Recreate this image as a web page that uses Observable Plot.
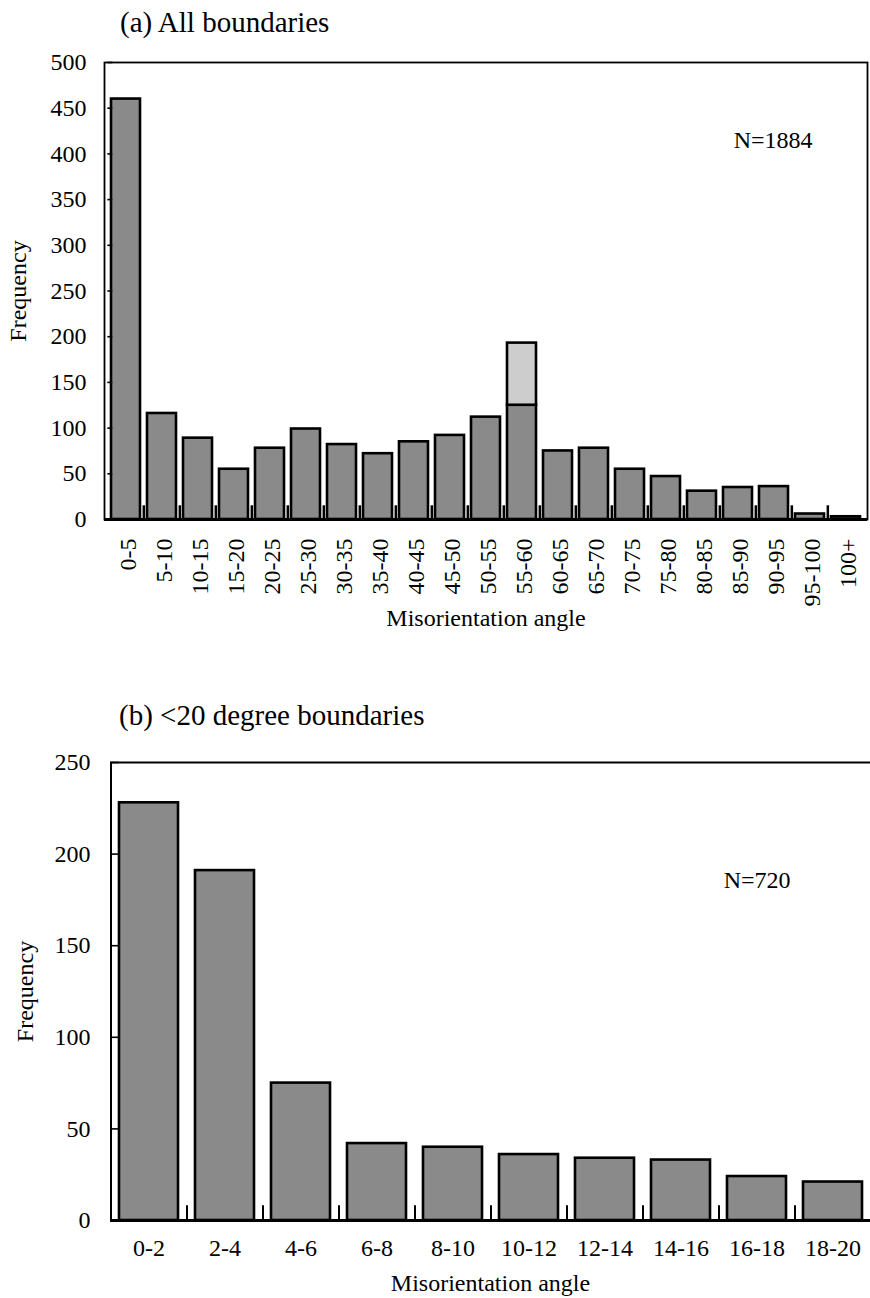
<!DOCTYPE html>
<html><head><meta charset="utf-8">
<script src="https://cdn.jsdelivr.net/npm/d3@7"></script>
<script src="https://cdn.jsdelivr.net/npm/@observablehq/plot@0.6"></script>
<style>
body{margin:0;background:#fff;}
#wrap{position:relative;width:870px;height:1298px;font-family:"Liberation Serif","Times New Roman",serif;}
.title{position:absolute;font-size:29px;line-height:30px;color:#000;white-space:nowrap;}
.chart{position:absolute;left:0;}
</style></head><body>
<div id="wrap">
<div class="title" style="left:120px;top:7px">(a) All boundaries</div>
<div id="a" class="chart" style="top:40px"></div>
<div class="title" style="left:119px;top:700px">(b) &lt;20 degree boundaries</div>
<div id="b" class="chart" style="top:740px"></div>
</div>
<script>
// Panel (a): all boundaries
const anglesA = ["0-5","5-10","10-15","15-20","20-25","25-30","30-35","35-40","40-45","45-50","50-55","55-60","60-65","65-70","70-75","75-80","80-85","85-90","90-95","95-100","100+"];
const countsA = [460,116,89,55,78,99,82,72,85,92,112,125,75,78,55,47,31,35,36,6,3];
const extraA  = [0,0,0,0,0,0,0,0,0,0,0,68,0,0,0,0,0,0,0,0,0];
const totalA = "N=1884";
const yTicksA = [0,50,100,150,200,250,300,350,400,450,500];

// Panel (b): <20 degree boundaries
const anglesB = ["0-2","2-4","4-6","6-8","8-10","10-12","12-14","14-16","16-18","18-20"];
const countsB = [228,191,75,42,40,36,34,33,24,21];
const totalB = "N=720";
const yTicksB = [0,50,100,150,200,250];

const FONT = "'Liberation Serif','Times New Roman',serif";
const W = 870;
const DARK = "#8a8a8a", LIGHT = "#cdcdcd";

// ---- chart A
const mlA = 104, mrA = 3, mtA = 22, mbA = 121, hA = 600;
const padInA = 0.2, padOutA = 0.1;
const stepA = (W - mlA - mrA) / anglesA.length;
const bwA = stepA * (1 - padInA);
const dataA = anglesA.map((a, i) => ({angle: a, count: countsA[i], extra: extraA[i]}));
const plotA = Plot.plot({
  width: W, height: hA, marginLeft: mlA, marginRight: mrA, marginTop: mtA, marginBottom: mbA,
  style: {fontFamily: FONT, fontSize: "24px", color: "#000", background: "#fff", overflow: "visible"},
  x: {domain: anglesA, paddingInner: padInA, paddingOuter: padOutA},
  y: {domain: [0, 500]},
  marks: [
    Plot.frame({stroke: "#000", strokeWidth: 1.8}),
    Plot.barY(dataA, {x: "angle", y: "count", fill: DARK, stroke: "#000", strokeWidth: 2.6}),
    Plot.barY(dataA.filter(d => d.extra > 0), {x: "angle", y1: "count", y2: d => d.count + d.extra, fill: LIGHT, stroke: "#000", strokeWidth: 2.6}),
    Plot.ruleX(anglesA.slice(1), {x: d => d, dx: -stepA / 2, y1: 0, y2: 15, stroke: "#000", strokeWidth: 2.5}),
    Plot.tickY(yTicksA, {y: d => d, x: () => anglesA[0], dx: -padOutA * stepA, insetRight: bwA - 5, stroke: "#000", strokeWidth: 1.6}),
    Plot.ruleY([0], {stroke: "#000", strokeWidth: 3}),
    Plot.axisY({ticks: yTicksA, tickSize: 0, tickPadding: 18, label: "Frequency", labelAnchor: "center", labelArrow: "none", labelOffset: 96}),
    Plot.text(anglesA, {x: d => d, y: () => 0, text: d => d, rotate: -90, textAnchor: "end", lineAnchor: "middle", dy: 19, dx: 2, fontSize: 24}),
    Plot.axisX({tickSize: 0, tickFormat: () => "", label: "Misorientation angle", labelAnchor: "center", labelOffset: 106}),
    Plot.text([totalA], {frameAnchor: "top-right", text: d => d, dx: -55, dy: 78, lineAnchor: "middle", textAnchor: "end", fontSize: 24})
  ]
});
document.getElementById("a").appendChild(plotA);

// ---- chart B
const mlB = 110, mrB = 0, mtB = 22, mbB = 78, hB = 558;
const padInB = 0.23, padOutB = 0.115;
const stepB = (W - mlB - mrB) / anglesB.length;
const bwB = stepB * (1 - padInB);
const dataB = anglesB.map((a, i) => ({angle: a, count: countsB[i]}));
const plotB = Plot.plot({
  width: W, height: hB, marginLeft: mlB, marginRight: mrB, marginTop: mtB, marginBottom: mbB,
  style: {fontFamily: FONT, fontSize: "24px", color: "#000", background: "#fff", overflow: "visible"},
  x: {domain: anglesB, paddingInner: padInB, paddingOuter: padOutB},
  y: {domain: [0, 250]},
  marks: [
    Plot.ruleY([250], {stroke: "#000", strokeWidth: 1.8}),
    Plot.ruleX([anglesB[0]], {x: d => d, dx: -stepB / 2, y1: 0, y2: 250, stroke: "#000", strokeWidth: 2}),
    Plot.barY(dataB, {x: "angle", y: "count", fill: DARK, stroke: "#000", strokeWidth: 2.6}),
    Plot.ruleX(anglesB.slice(1), {x: d => d, dx: -stepB / 2, y1: 0, y2: 8, stroke: "#000", strokeWidth: 2}),
    Plot.tickY(yTicksB, {y: d => d, x: () => anglesB[0], dx: -padOutB * stepB, insetRight: bwB - 8, stroke: "#000", strokeWidth: 1.6}),
    Plot.ruleY([0], {stroke: "#000", strokeWidth: 3}),
    Plot.axisY({ticks: yTicksB, tickSize: 0, tickPadding: 20, label: "Frequency", labelAnchor: "center", labelArrow: "none", labelOffset: 95}),
    Plot.axisX({tickSize: 0, tickPadding: 18, label: "Misorientation angle", labelAnchor: "center", labelOffset: 70}),
    Plot.text([totalB], {frameAnchor: "top-right", text: d => d, dx: -80, dy: 118, lineAnchor: "middle", textAnchor: "end", fontSize: 24})
  ]
});
document.getElementById("b").appendChild(plotB);
</script>
</body></html>
